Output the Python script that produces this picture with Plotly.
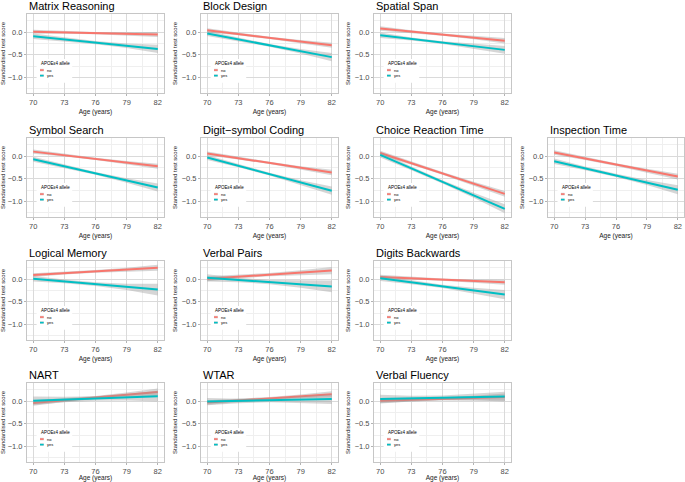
import plotly.graph_objects as go

# panel titles, in reading order (row by row)
titles = ["Matrix Reasoning", "Block Design", "Spatial Span",
          "Symbol Search", "Digit\u2212symbol Coding", "Choice Reaction Time", "Inspection Time",
          "Logical Memory", "Verbal Pairs", "Digits Backwards",
          "NART", "WTAR", "Verbal Fluency"]
# grid cell (row, col) of each panel
cells = [(0, 0), (0, 1), (0, 2),
         (1, 0), (1, 1), (1, 2), (1, 3),
         (2, 0), (2, 1), (2, 2),
         (3, 0), (3, 1), (3, 2)]

ages = [70, 73, 76, 79, 82]

# fitted standardised score, APOE e4 "no"
no_fit = [
    [0.01, -0.005, -0.02, -0.035, -0.05],
    [0.04, -0.04, -0.125, -0.21, -0.29],
    [0.08, 0.01, -0.055, -0.12, -0.19],
    [0.10, 0.02, -0.06, -0.14, -0.22],
    [0.06, -0.045, -0.15, -0.255, -0.36],
    [0.07, -0.155, -0.38, -0.605, -0.83],
    [0.08, -0.05, -0.185, -0.32, -0.45],
    [0.09, 0.13, 0.17, 0.21, 0.25],
    [0.01, 0.055, 0.10, 0.145, 0.19],
    [0.05, 0.02, -0.01, -0.04, -0.07],
    [-0.04, 0.02, 0.08, 0.14, 0.20],
    [-0.03, 0.015, 0.06, 0.105, 0.15],
    [0.01, 0.03, 0.05, 0.07, 0.09],
]
# fitted standardised score, APOE e4 "yes"
yes_fit = [
    [-0.09, -0.16, -0.23, -0.30, -0.37],
    [-0.03, -0.16, -0.29, -0.42, -0.55],
    [-0.07, -0.15, -0.23, -0.31, -0.39],
    [-0.07, -0.225, -0.38, -0.535, -0.69],
    [-0.03, -0.21, -0.395, -0.58, -0.76],
    [0.03, -0.27, -0.565, -0.86, -1.16],
    [-0.11, -0.27, -0.425, -0.58, -0.74],
    [0.01, -0.05, -0.11, -0.17, -0.23],
    [0.03, -0.02, -0.065, -0.11, -0.16],
    [0.02, -0.07, -0.16, -0.25, -0.34],
    [0.01, 0.035, 0.06, 0.085, 0.11],
    [-0.01, 0.005, 0.02, 0.035, 0.05],
    [0.05, 0.06, 0.075, 0.09, 0.10],
]
# confidence band half-widths
no_ci = [
    [0.045, 0.03, 0.025, 0.035, 0.055],
    [0.045, 0.03, 0.025, 0.035, 0.055],
    [0.05, 0.03, 0.025, 0.035, 0.06],
    [0.045, 0.03, 0.025, 0.035, 0.055],
    [0.045, 0.03, 0.025, 0.035, 0.06],
    [0.05, 0.035, 0.03, 0.04, 0.065],
    [0.05, 0.035, 0.03, 0.04, 0.065],
    [0.04, 0.03, 0.03, 0.04, 0.065],
    [0.055, 0.04, 0.035, 0.05, 0.08],
    [0.045, 0.03, 0.025, 0.035, 0.055],
    [0.06, 0.04, 0.035, 0.05, 0.08],
    [0.05, 0.035, 0.03, 0.04, 0.07],
    [0.06, 0.04, 0.035, 0.05, 0.08],
]
yes_ci = [
    [0.06, 0.04, 0.035, 0.05, 0.09],
    [0.055, 0.035, 0.03, 0.05, 0.09],
    [0.06, 0.035, 0.03, 0.05, 0.085],
    [0.055, 0.035, 0.03, 0.05, 0.09],
    [0.055, 0.035, 0.03, 0.05, 0.09],
    [0.06, 0.04, 0.035, 0.055, 0.10],
    [0.06, 0.04, 0.035, 0.055, 0.10],
    [0.06, 0.04, 0.04, 0.07, 0.13],
    [0.08, 0.05, 0.045, 0.08, 0.13],
    [0.06, 0.04, 0.035, 0.06, 0.10],
    [0.09, 0.06, 0.05, 0.07, 0.12],
    [0.08, 0.05, 0.045, 0.07, 0.11],
    [0.09, 0.06, 0.05, 0.07, 0.11],
]

W, H = 685, 482
col_left = [27, 201, 374, 548]
col_w = 137
row_top = [14, 138, 261, 383]
row_h = 79

RED = "#F8766D"
TEAL = "#00BFC4"
BAND = "rgba(153,153,153,0.4)"
FONT = "Liberation Sans, Arial, sans-serif"

fig = go.Figure()
layout = {}
shapes = []
annotations = []

for i, (title, (r, c)) in enumerate(zip(titles, cells)):
    n = "" if i == 0 else str(i + 1)
    xa, ya = "x" + n, "y" + n

    for fit, ci, col in [(no_fit[i], no_ci[i], RED), (yes_fit[i], yes_ci[i], TEAL)]:
        lo = [f - w for f, w in zip(fit, ci)]
        hi = [f + w for f, w in zip(fit, ci)]
        fig.add_trace(go.Scatter(x=ages + ages[::-1], y=hi + lo[::-1], fill="toself",
                                 fillcolor=BAND, line=dict(width=0), mode="lines",
                                 hoverinfo="skip", showlegend=False, xaxis=xa, yaxis=ya))
        fig.add_trace(go.Scatter(x=ages, y=fit, mode="lines", line=dict(color=col, width=2),
                                 showlegend=False, xaxis=xa, yaxis=ya))

    x0 = col_left[c] / W
    x1 = min(col_left[c] + col_w, W - 1) / W
    y1 = 1 - row_top[r] / H
    y0 = 1 - (row_top[r] + row_h) / H

    common = dict(showline=True, mirror=True, linecolor="#C6C6C6", linewidth=1,
                  showgrid=True, gridcolor="#DADADA", gridwidth=0.7, automargin=False,
                  ticks="outside", ticklen=2, tickcolor="#B3B3B3", zeroline=False,
                  tickfont=dict(size=7.5, color="#4D4D4D", family=FONT))
    layout["xaxis" + n] = dict(common, domain=[x0, x1], anchor=ya, range=[69.4, 82.6],
                               tick0=70, dtick=3,
                               minor=dict(tick0=70, dtick=1.5, showgrid=True,
                                          gridcolor="#EFEFEF", gridwidth=0.5),
                               title=dict(text="Age (years)", standoff=3,
                                          font=dict(size=6.5, color="#1A1A1A", family=FONT)))
    layout["yaxis" + n] = dict(common, domain=[y0, y1], anchor=xa, range=[-1.34, 0.40],
                               tick0=0, dtick=0.5, tickformat=".1f",
                               minor=dict(tick0=0, dtick=0.25, showgrid=True,
                                          gridcolor="#EFEFEF", gridwidth=0.5),
                               title=dict(text="Standardised test score", standoff=3,
                                          font=dict(size=6, color="#1A1A1A", family=FONT)))

    xd, yd = xa + " domain", ya + " domain"
    annotations.append(dict(text=title, xref=xd, yref=yd, x=0, y=1, xanchor="left",
                            yanchor="bottom", yshift=0, showarrow=False,
                            font=dict(size=11, color="black", family=FONT)))
    # legend box
    shapes.append(dict(type="rect", xref=xd, yref=yd, x0=0.07, x1=0.33, y0=0.13, y1=0.43,
                       fillcolor="white", line=dict(width=0), layer="above"))
    annotations.append(dict(text="APOE\u03b54 allele", xref=xd, yref=yd, x=0.09, y=0.37,
                            xanchor="left", yanchor="middle", showarrow=False,
                            font=dict(size=4.5, color="black", family=FONT)))
    for lab, col, yy in [("no", RED, 0.29), ("yes", TEAL, 0.22)]:
        shapes.append(dict(type="rect", xref=xd, yref=yd, x0=0.095, x1=0.122,
                           y0=yy - 0.017, y1=yy + 0.017, fillcolor="#D9D9D9",
                           line=dict(width=0), layer="above"))
        shapes.append(dict(type="line", xref=xd, yref=yd, x0=0.095, x1=0.122, y0=yy, y1=yy,
                           line=dict(color=col, width=1.6), layer="above"))
        annotations.append(dict(text=lab, xref=xd, yref=yd, x=0.135, y=yy, xanchor="left",
                                yanchor="middle", showarrow=False,
                                font=dict(size=4, color="black", family=FONT)))

fig.update_layout(**layout)
fig.update_layout(width=W, height=H, margin=dict(l=0, r=0, t=0, b=0, autoexpand=False),
                  plot_bgcolor="white", paper_bgcolor="white",
                  shapes=shapes, annotations=annotations, showlegend=False,
                  font=dict(family=FONT))

# the page body has a default 8px margin; drop it so the figure fills the window
fig.write_html("out.html", config={"displayModeBar": False},
               post_script="document.body.style.margin='0';")
